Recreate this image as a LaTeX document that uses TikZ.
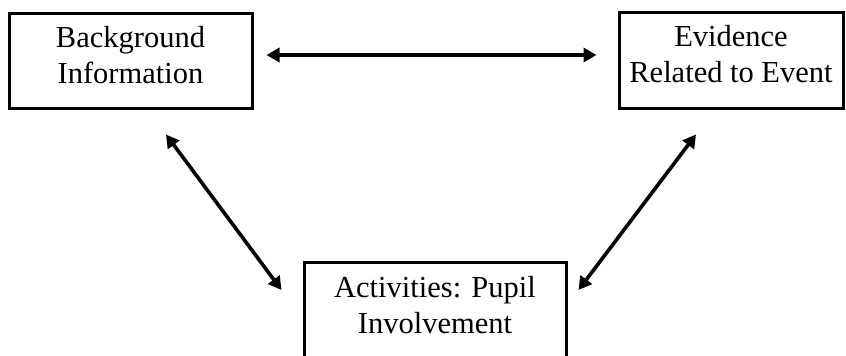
\documentclass[tikz,border=0pt]{standalone}
\usepackage{fontspec}
\setmainfont{Liberation Serif}
\usetikzlibrary{arrows.meta}
\newcommand{\lowstrut}{\rule[-12pt]{0pt}{12pt}}
\begin{document}
\begin{tikzpicture}[x=1pt,y=-1pt,
  box/.style={draw,line width=3pt,rectangle,inner sep=0pt,align=center,
    font=\fontsize{30.5}{36}\selectfont},
  link/.style={line width=3.6pt,{Triangle[length=13pt,width=14pt]}-{Triangle[length=13pt,width=14pt]}}]
\useasboundingbox (0,0) rectangle (846,356);
\node[box,minimum width=243pt,minimum height=95pt] (bg) at (130.5,60.5) {Background\\Information\lowstrut};
\node[box,minimum width=224pt,minimum height=96pt] (ev) at (731,60) {Evidence\\Related to Event\lowstrut};
\node[box,minimum width=262pt,minimum height=98pt] (act) at (435,311) {Activities: Pupil\\Involvement\lowstrut};
\draw[link] ([xshift=13pt,yshift=5.5pt]bg.east) -- ([xshift=-21pt,yshift=5pt]ev.west);
\draw[link] ([xshift=35.5pt,yshift=-25pt]bg.south) -- ([xshift=-21pt,yshift=21pt]act.west);
\draw[link] ([xshift=-35pt,yshift=-25pt]ev.south) -- ([xshift=11pt,yshift=21pt]act.east);
\end{tikzpicture}
\end{document}
